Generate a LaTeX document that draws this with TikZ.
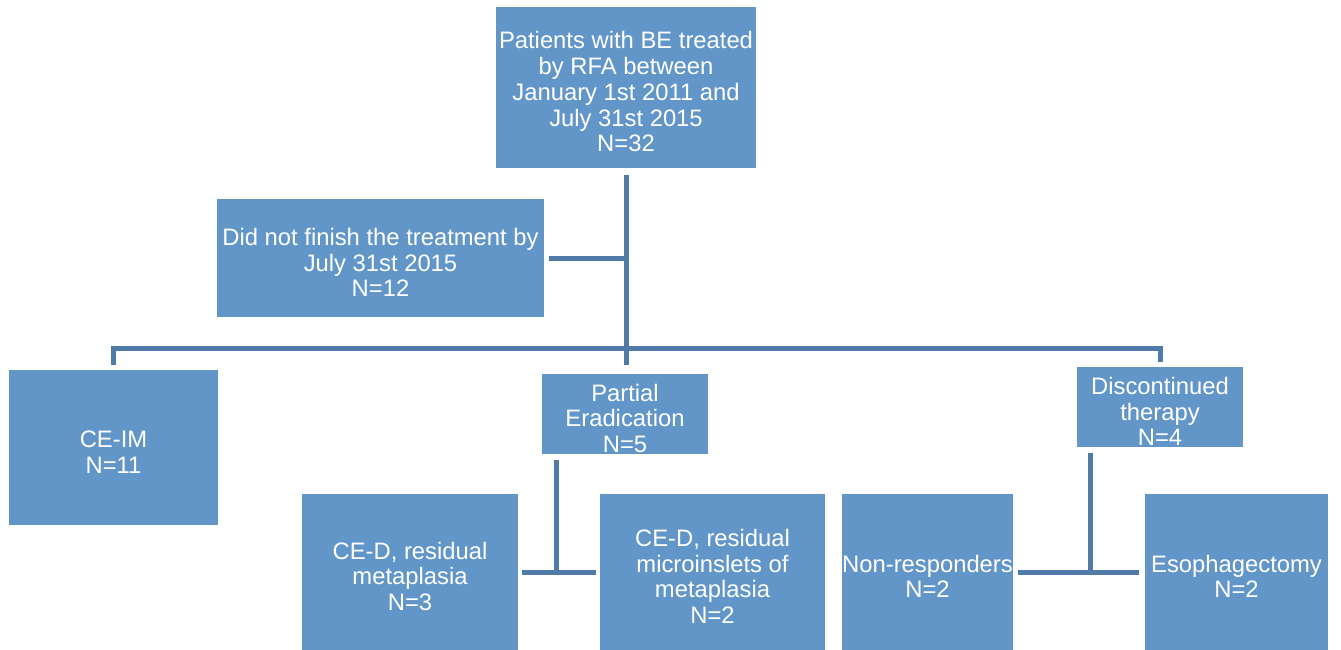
\documentclass[tikz,border=0pt]{standalone}
\usepackage{fontspec}
\setmainfont{Liberation Sans}
\usetikzlibrary{calc}

\definecolor{boxblue}{RGB}{98,150,200}
\definecolor{linkblue}{RGB}{79,123,168}

% pushes the first line down a little, as the reference centres on the font ascent
\newcommand{\firststrut}{\rule{0pt}{26pt}}

\tikzset{every picture/.style={line width=0.75pt}}
\tikzset{
	flowbox/.style={fill=boxblue, text=white, inner sep=0pt, align=center, font=\fontsize{23.8}{25.7}\selectfont},
	link/.style={draw=linkblue, line width=5pt},
}

\begin{document}
\begin{tikzpicture}[x=1pt,y=1pt,yscale=-1,xscale=1]
	\useasboundingbox (0,0) rectangle (1341,649);
	
	% Boxes
	\node [flowbox, minimum width=260, minimum height=161] (patients) at (626,87.5) {\firststrut Patients with BE treated\\by RFA between\\January 1st 2011 and\\July 31st 2015\\N=32};
	\node [flowbox, minimum width=327, minimum height=118] (unfinished) at (380.5,258) {\firststrut Did not finish the treatment by\\July 31st 2015\\N=12};
	\node [flowbox, minimum width=209, minimum height=155] (ceim) at (113.5,447.5) {\firststrut CE-IM\\N=11};
	\node [flowbox, minimum width=166, minimum height=80] (partial) at (625,414) {\firststrut Partial\\Eradication\\N=5};
	\node [flowbox, minimum width=166, minimum height=80] (discont) at (1160,407) {\firststrut Discontinued\\therapy\\N=4};
	\node [flowbox, minimum width=216, minimum height=157] (residual) at (410,572) {\firststrut CE-D, residual\\metaplasia\\N=3};
	\node [flowbox, minimum width=225, minimum height=157] (microins) at (712.5,572) {\firststrut CE-D, residual\\microinslets of\\metaplasia\\N=2};
	\node [flowbox, minimum width=171, minimum height=157] (nonresp) at (927.5,572) {\firststrut Non-responders\\N=2};
	\node [flowbox, minimum width=183, minimum height=157] (esoph) at (1236.5,572) {\firststrut Esophagectomy\\N=2};
	
	% Junctions
	\coordinate (split) at (626,348);
	\coordinate (latejoin) at (626,258);
	\coordinate (partialjoin) at (556,572);
	\coordinate (discontjoin) at (1090,572);
	
	% Trunk
	\draw [link] ($(patients.south)+(0,7)$) -- ($(split)+(0,17)$);
	\draw [link] ($(unfinished.east)+(5,0)$) -- (latejoin);
	% Branches
	\draw [link] ($(ceim.north)+(0,-5)$) -- (ceim.north |- split) -- (discont.north |- split) -- ($(discont.north)+(0,-5)$);
	% Partial eradication
	\draw [link] ($(partial.south -| partialjoin)+(0,6)$) -- (partialjoin);
	\draw [link] ($(residual.east)+(4,0)$) -- ($(microins.west)+(-4,0)$);
	% Discontinued therapy
	\draw [link] ($(discont.south -| discontjoin)+(0,6)$) -- (discontjoin);
	\draw [link] ($(nonresp.east)+(5,0)$) -- ($(esoph.west)+(-6,0)$);
	
\end{tikzpicture}
\end{document}
